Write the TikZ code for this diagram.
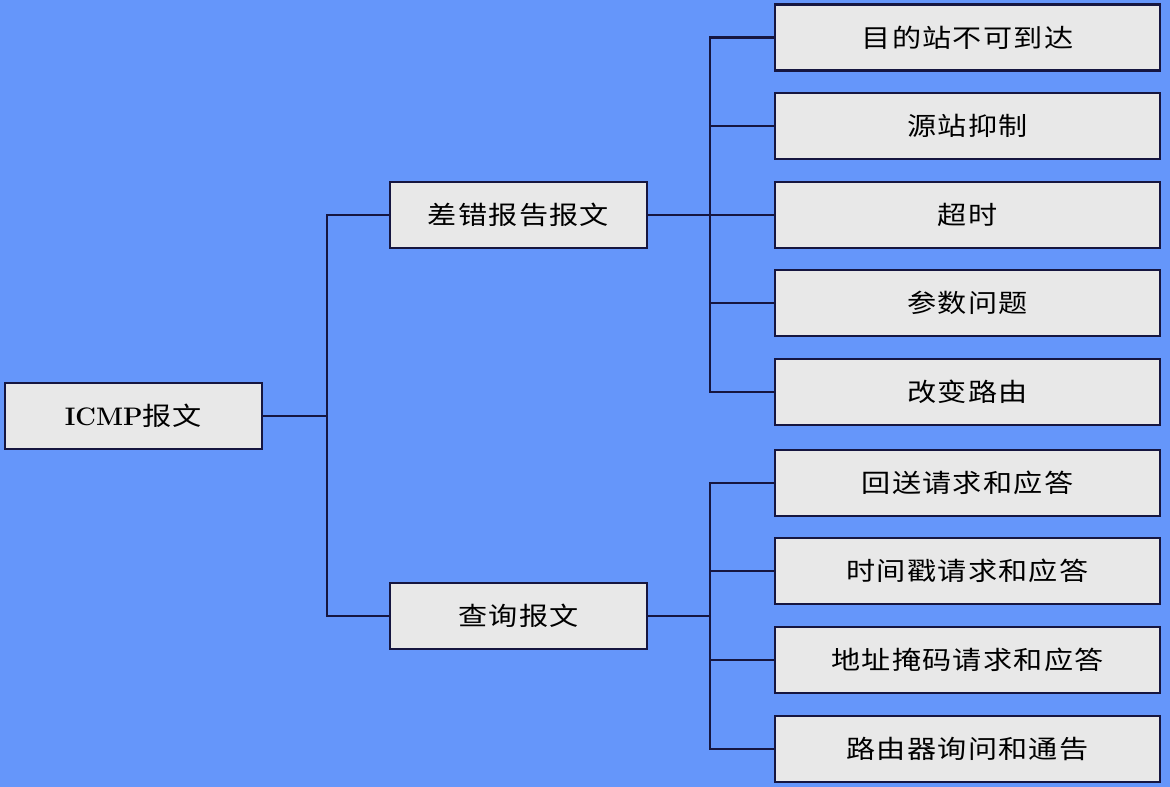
\documentclass[tikz,border=0pt]{standalone}
\usepackage{fontspec}
\newfontfamily\cjk[FakeStretch=1.15,LetterSpace=5]{Noto Sans CJK SC}
\definecolor{bgblue}{RGB}{101,150,250}
\definecolor{boxgray}{RGB}{232,232,232}
\definecolor{navy}{RGB}{22,22,64}
\tikzset{
  box/.style={draw=navy, line width=1.6pt, fill=boxgray, inner sep=0pt,
    minimum width=192.75pt, minimum height=49.5pt, font=\cjk\fontsize{19}{22}\selectfont},
  leaf/.style={box, minimum width=288.75pt},
  link/.style={draw=navy, line width=1.6pt}
}
\begin{document}
\begin{tikzpicture}[x=0.75pt,y=-0.75pt]
\fill[bgblue] (0,0) rectangle (1170,787);
\useasboundingbox (0,0) rectangle (1170,787);

\node[box] (icmp) at (133.5,416) {{\rmfamily\bfseries ICMP}报文};
\node[box] (err) at (518.5,215) {差错报告报文};
\node[box] (qry) at (518.5,616) {查询报文};

\node[leaf] (unreach) at (967.5,37.5) {目的站不可到达};
\node[leaf] (quench) at (967.5,126) {源站抑制};
\node[leaf] (timeout) at (967.5,215) {超时};
\node[leaf] (param) at (967.5,303) {参数问题};
\node[leaf] (redirect) at (967.5,392) {改变路由};
\node[leaf] (echo) at (967.5,483) {回送请求和应答};
\node[leaf] (tstamp) at (967.5,571) {时间戳请求和应答};
\node[leaf] (mask) at (967.5,660) {地址掩码请求和应答};
\node[leaf] (router) at (967.5,749) {路由器询问和通告};

\coordinate (t1) at (327,0);
\coordinate (t2) at (710,0);
\draw[link] (icmp.east) -- (icmp.east -| t1);
\draw[link] (err.west) -- (err.west -| t1) -- (qry.west -| t1) -- (qry.west);

\draw[link] (err.east) -- (timeout.west);
\draw[link] (unreach.west) -- (unreach.west -| t2) -- (redirect.west -| t2) -- (redirect.west);
\foreach \n in {quench,param}
  \draw[link] (\n.west) -- (\n.west -| t2);

\draw[link] (qry.east) -- (qry.east -| t2);
\draw[link] (echo.west) -- (echo.west -| t2) -- (router.west -| t2) -- (router.west);
\foreach \n in {tstamp,mask}
  \draw[link] (\n.west) -- (\n.west -| t2);
\end{tikzpicture}
\end{document}
